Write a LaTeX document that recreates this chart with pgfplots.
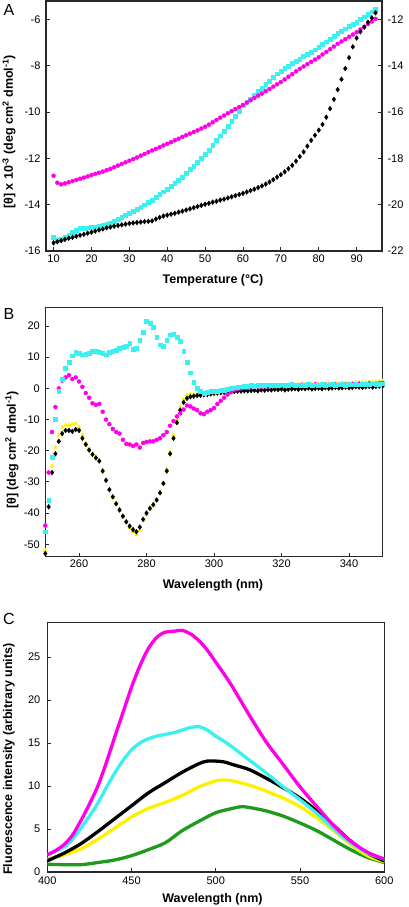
\documentclass[border=0pt]{standalone}
\usepackage{pgfplots}
\pgfplotsset{compat=1.18}
\usepackage{pgfplotstable}
\usepackage{fontspec}
\setmainfont{Liberation Sans}
\definecolor{mag}{RGB}{255,0,230}
\definecolor{cya}{RGB}{60,240,240}
\definecolor{yel}{RGB}{255,240,0}
\definecolor{grn}{RGB}{30,155,30}
\definecolor{frame}{RGB}{40,40,40}

\pgfplotstableread{
T m c k
10 -12.75 -15.42 -15.65
11 -13.05 -15.55 -15.60
12 -13.12 -15.50 -15.55
13 -13.08 -15.40 -15.50
14 -13.03 -15.30 -15.45
15 -12.98 -15.20 -15.41
16 -12.93 -15.10 -15.36
17 -12.88 -15.03 -15.32
18 -12.83 -15.00 -15.28
19 -12.78 -14.99 -15.23
20 -12.72 -14.97 -15.19
21 -12.67 -14.95 -15.14
22 -12.62 -14.92 -15.09
23 -12.57 -14.88 -15.05
24 -12.51 -14.84 -15.00
25 -12.45 -14.80 -14.97
26 -12.38 -14.72 -14.93
27 -12.31 -14.63 -14.90
28 -12.24 -14.55 -14.87
29 -12.17 -14.45 -14.84
30 -12.10 -14.38 -14.81
31 -12.03 -14.29 -14.79
32 -11.96 -14.20 -14.77
33 -11.88 -14.10 -14.75
34 -11.81 -14.00 -14.73
35 -11.73 -13.90 -14.72
36 -11.66 -13.79 -14.70
37 -11.59 -13.68 -14.62
38 -11.52 -13.56 -14.55
39 -11.44 -13.44 -14.49
40 -11.37 -13.32 -14.45
41 -11.30 -13.19 -14.41
42 -11.22 -13.06 -14.37
43 -11.15 -12.93 -14.32
44 -11.07 -12.80 -14.28
45 -11.00 -12.64 -14.23
46 -10.93 -12.48 -14.18
47 -10.86 -12.32 -14.13
48 -10.79 -12.15 -14.08
49 -10.71 -11.98 -14.03
50 -10.63 -11.82 -13.98
51 -10.54 -11.65 -13.94
52 -10.44 -11.44 -13.89
53 -10.34 -11.23 -13.85
54 -10.24 -11.02 -13.80
55 -10.15 -10.82 -13.76
56 -10.05 -10.62 -13.71
57 -9.96 -10.40 -13.66
58 -9.87 -10.18 -13.61
59 -9.78 -9.95 -13.56
60 -9.69 -9.72 -13.51
61 -9.59 -9.56 -13.45
62 -9.49 -9.42 -13.39
63 -9.39 -9.26 -13.33
64 -9.29 -9.11 -13.26
65 -9.20 -8.96 -13.19
66 -9.10 -8.81 -13.11
67 -9.00 -8.66 -13.02
68 -8.90 -8.50 -12.92
69 -8.80 -8.34 -12.81
70 -8.70 -8.22 -12.70
71 -8.59 -8.10 -12.58
72 -8.47 -8.00 -12.45
73 -8.36 -7.90 -12.30
74 -8.24 -7.80 -12.12
75 -8.13 -7.70 -11.92
76 -8.03 -7.60 -11.72
77 -7.93 -7.50 -11.47
78 -7.83 -7.40 -11.22
79 -7.73 -7.30 -11.00
80 -7.63 -7.20 -10.78
81 -7.51 -7.08 -10.53
82 -7.40 -6.96 -10.22
83 -7.28 -6.84 -9.85
84 -7.17 -6.72 -9.45
85 -7.05 -6.60 -9.03
86 -6.95 -6.50 -8.58
87 -6.85 -6.40 -8.12
88 -6.75 -6.30 -7.65
89 -6.65 -6.20 -7.18
90 -6.55 -6.10 -6.80
91 -6.43 -5.99 -6.53
92 -6.32 -5.88 -6.33
93 -6.20 -5.77 -6.12
94 -6.09 -5.66 -5.93
95 -5.97 -5.55 -5.71
}\tableA

\pgfplotstableread{
w c m k y
250 -46 -44 -53 -52
251 -36 -27 -38 -36
252 -22 -14 -27 -25
253 -10 -6 -21 -19
254 -1 0 -17 -15
255 3 2.5 -14.5 -12.5
256 6.5 3.5 -13.5 -11.8
257 8.5 4.2 -13.5 -11.8
258 10.5 3 -13.8 -11.5
259 11.5 3.5 -13.2 -11.3
260 11.2 2.2 -13.5 -12.5
261 10.8 0.5 -16 -15
262 11 -1.5 -18 -17.5
263 11.3 -3 -19.8 -19.5
264 11.8 -4.8 -21.2 -21
265 12 -5.3 -22.3 -22
266 11.5 -5 -23.3 -23.2
267 11.2 -7.5 -26.5 -26.5
268 10.8 -10 -29.5 -29.5
269 11.5 -11.5 -32.5 -32.5
270 11.8 -13 -34.8 -35
271 12.3 -14 -37 -37.2
272 12.8 -14.5 -39 -39.2
273 13.2 -16.5 -41 -41.2
274 13.5 -17.8 -42.8 -43
275 14.5 -18 -44.2 -44.8
276 12.5 -18.5 -45.3 -46
277 13 -18 -46 -47
278 15.5 -19 -44.5 -45.5
279 18 -17.5 -42 -42.5
280 21.5 -17.2 -40 -40.5
281 21 -17 -38.5 -38.5
282 19.5 -17 -37.3 -37.5
283 16.5 -16.5 -35.8 -36
284 14 -16 -33.5 -33.5
285 13.5 -15 -30.5 -30.5
286 15.5 -14 -26.5 -26
287 17.2 -12 -21 -20.5
288 17.5 -10.5 -16 -15
289 16.5 -9 -11 -10
290 15 -8 -7 -6
291 12 -6.8 -4.5 -3.5
292 8.5 -5.5 -3.2 -2.2
293 5 -5.8 -2.7 -1.8
294 2 -6.5 -2.5 -2
295 0 -7 -2.3 -2
296 -1 -8 -2.2 -2
297 -1.5 -8.3 -2.1 -1.8
298 -1.2 -7.5 -2 -1.7
299 -1 -7 -1.8 -1.5
300 -1 -6.3 -1.6 -1.3
301 -0.8 -5 -1.5 -1.2
302 -0.7 -4 -1.4 -1.1
303 -0.5 -3 -1.3 -1
304 -0.3 -2 -1.2 -0.9
305 0 -1.2 -1.1 -0.7
306 0.2 -0.5 -1 -0.5
307 0.3 -0.2 -0.9 -0.3
308 0.5 0 -0.9 0
309 0.6 0.2 -0.8 0.1
310 0.7 0.3 -0.8 0.2
311 0.9 0.4 -0.7 0.3
312 0.8 0.5 -0.6 0.4
313 1.1 0.6 -0.8 0.3
314 0.9 0.5 -0.5 0.5
315 1.0 0.7 -0.6 0.6
316 1.2 0.6 -0.4 0.5
317 0.9 0.8 -0.5 0.7
318 1.1 0.7 -0.3 0.6
319 1.0 0.9 -0.4 0.8
320 1.2 0.8 -0.2 0.7
321 1.0 1.0 -0.5 0.9
322 1.1 0.8 -0.3 0.8
323 1.3 1.1 -0.2 1.0
324 1.0 0.9 -0.1 0.9
325 1.2 1.0 -0.3 1.1
326 1.1 1.2 0.0 1.0
327 1.0 0.9 -0.1 1.2
328 1.3 1.1 0.1 1.1
329 1.1 1.0 -0.2 1.3
330 1.2 1.3 0.0 1.2
331 1.0 1.1 0.1 1.3
332 1.3 1.0 -0.1 1.4
333 1.1 1.2 0.2 1.3
334 1.2 1.1 0.0 1.5
335 1.4 1.3 0.1 1.4
336 1.1 1.2 0.3 1.6
337 1.2 1.1 0.1 1.5
338 1.3 1.4 0.2 1.7
339 1.1 1.2 0.4 1.6
340 1.4 1.3 0.2 1.8
341 1.2 1.4 0.3 1.7
342 1.3 1.2 0.5 1.9
343 1.2 1.5 0.4 1.8
344 1.4 1.3 0.3 2.0
345 1.3 1.4 0.5 1.9
346 1.2 1.6 0.6 2.0
347 1.5 1.4 0.4 2.1
348 1.3 1.5 0.6 2.0
349 1.4 1.6 0.7 2.2
350 1.5 1.7 0.8 2.3
}\tableB

\pgfplotstableread{
w m
400 2.0
405 2.5
410 3.2
415 4.3
420 6.0
425 7.9
430 10.0
435 12.7
440 15.7
445 18.6
450 21.5
455 24.0
460 26.0
465 27.3
470 27.9
475 28.0
480 28.1
485 27.7
490 26.9
495 25.8
500 24.4
505 23.0
510 21.5
520 18.2
530 15.1
540 12.5
550 9.9
560 7.6
570 5.4
580 3.6
590 2.3
600 1.5
}\tableCm

\pgfplotstableread{
w c
400 2.0
410 2.9
415 3.8
420 5.1
425 6.5
430 8.0
435 9.8
440 11.5
445 13.0
450 14.2
455 15.0
460 15.5
465 15.8
470 16.0
475 16.2
480 16.5
485 16.8
490 16.9
495 16.5
500 15.8
505 15.2
510 14.5
520 13.0
530 11.5
540 9.9
550 8.4
560 6.8
570 5.0
580 3.4
590 2.2
600 1.5
}\tableCc

\pgfplotstableread{
w k
400 1.3
410 2.2
420 3.3
430 4.7
440 6.2
450 7.7
460 9.2
470 10.4
480 11.6
490 12.6
495 12.9
500 12.9
505 12.8
510 12.5
520 11.9
530 10.9
540 9.8
550 8.6
560 7.1
570 5.4
580 3.6
590 2.2
600 1.3
}\tableCk

\pgfplotstableread{
w y
400 1.5
410 2.0
420 2.7
430 3.8
440 5.1
450 6.4
460 7.4
470 8.1
480 8.9
490 9.9
500 10.6
505 10.7
510 10.6
520 10.1
530 9.4
540 8.6
550 7.6
560 6.3
570 4.8
580 3.2
590 1.9
600 1.2
}\tableCy

\pgfplotstableread{
w g
400 0.9
410 0.85
420 0.85
430 1.1
440 1.4
450 1.9
460 2.6
470 3.4
480 4.8
490 5.9
500 6.9
510 7.4
515 7.6
520 7.5
530 7.1
540 6.5
550 5.7
560 4.8
570 3.7
580 2.6
590 1.7
600 1.1
}\tableCg

\pgfplotsset{
  panel/.style={
    scale only axis,
    anchor=south west,
    axis line style={frame, line width=1.1pt},
    tick align=inside,
    tick pos=left,
    major tick length=4pt,
    tick style={frame, line width=0.8pt},
    /pgf/number format/assume math mode=true,
    ticklabel style={font=\fontsize{11}{13}\selectfont},
    label style={font=\fontsize{12.5}{14}\selectfont\bfseries},
    scaled ticks=false,
  },
}

\begin{document}
\begin{tikzpicture}
\useasboundingbox (0pt,0pt) rectangle (408pt,907pt);

% ---------- Panel A ----------
\begin{axis}[panel,
  at={(46pt,656pt)}, width=336pt, height=250pt,
  xmin=8, xmax=96.7, ymin=-16, ymax=-5.2,
  xtick={10,20,...,90}, ytick={-16,-14,...,-6},
  xlabel={Temperature (°C)},
  ylabel={[θ] x 10\textsuperscript{-3} (deg cm\textsuperscript{2} dmol\textsuperscript{-1})},
  xlabel style={at={(axis description cs:0.497,-0.116)}, anchor=center},
  ylabel style={at={(axis description cs:-0.110,0.476)}, anchor=center},
  yticklabel style={xshift=-2pt},
]
\addplot[only marks, mark=square*, mark size=1.9pt, color=cya] table[x=T, y=c] {\tableA};
\addplot[only marks, mark=*, mark size=2pt, color=mag] table[x=T, y=m] {\tableA};
\addplot[only marks, mark=diamond*, mark size=2.4pt, color=black] table[x=T, y=k] {\tableA};
\end{axis}
\begin{axis}[panel,
  at={(46pt,656pt)}, width=336pt, height=250pt,
  xmin=8, xmax=96.7, ymin=-22, ymax=-11.2,
  axis x line=none, axis y line*=right, tick pos=right,
  ytick={-22,-20,...,-12},
  yticklabel style={xshift=2pt},
]
\end{axis}
\node[font=\fontsize{16}{18}\selectfont] at (9pt,897pt) {A};

% ---------- Panel B ----------
\begin{axis}[panel,
  at={(45.3pt,350.3pt)}, width=337.4pt, height=249.4pt,
  xmin=250, xmax=350, ymin=-54, ymax=26,
  xtick={260,280,...,340}, ytick={-50,-40,...,20},
  xlabel={Wavelength (nm)},
  ylabel={[θ] (deg cm\textsuperscript{2} dmol\textsuperscript{-1})},
  xlabel style={at={(axis description cs:0.497,-0.113)}, anchor=center},
  ylabel style={at={(axis description cs:-0.099,0.428)}, anchor=center},
  yticklabel style={xshift=-2pt},
  clip=true,
]
\addplot[only marks, mark=triangle*, mark size=2.3pt, color=yel] table[x=w, y=y] {\tableB};
\addplot[only marks, mark=diamond*, mark size=2.4pt, color=black] table[x=w, y=k] {\tableB};
\addplot[only marks, mark=*, mark size=2pt, color=mag] table[x=w, y=m] {\tableB};
\addplot[only marks, mark=square*, mark size=1.9pt, color=cya] table[x=w, y=c] {\tableB};
\end{axis}
\node[font=\fontsize{16}{18}\selectfont] at (9pt,593pt) {B};

% ---------- Panel C ----------
\begin{axis}[panel,
  at={(47.3pt,35pt)}, width=337pt, height=249.3pt,
  xmin=400, xmax=600, ymin=0, ymax=29,
  xtick={400,450,...,600}, ytick={0,5,...,25},
  xlabel={Wavelength (nm)},
  ylabel={Fluorescence intensity (arbitrary units)},
  xlabel style={at={(axis description cs:0.49,-0.108)}, anchor=center},
  ylabel style={at={(axis description cs:-0.114,0.453)}, anchor=center},
  yticklabel style={xshift=-3.5pt},
  xticklabel style={yshift=-1pt},
]
\addplot[grn, line width=3.3pt, smooth] table[x=w, y=g] {\tableCg};
\addplot[yel, line width=3.3pt, smooth] table[x=w, y=y] {\tableCy};
\addplot[black, line width=3.3pt, smooth] table[x=w, y=k] {\tableCk};
\addplot[cya, line width=3.3pt, smooth] table[x=w, y=c] {\tableCc};
\addplot[mag, line width=3.3pt, smooth] table[x=w, y=m] {\tableCm};
\end{axis}
\node[font=\fontsize{16}{18}\selectfont] at (9pt,288pt) {C};
\end{tikzpicture}
\end{document}
